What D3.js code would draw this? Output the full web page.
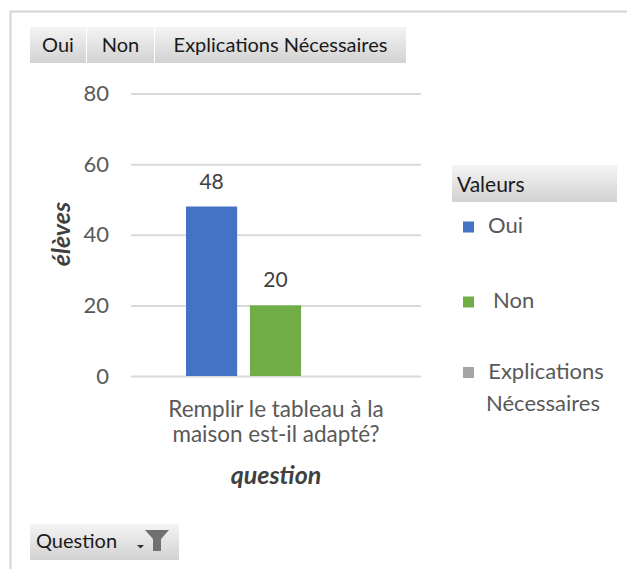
<!DOCTYPE html>
<html><head><meta charset="utf-8">
<script src="https://cdn.jsdelivr.net/npm/d3@7"></script>
<style>
html,body{margin:0;padding:0;background:#fff;}
svg{display:block;font-family:Lato,"Open Sans",sans-serif;}
</style></head>
<body>
<svg id="c" width="627" height="569"></svg>
<script>
const categories = ["Remplir le tableau à la maison est-il adapté?"];
const categoryLines = [["Remplir le tableau à la", "maison est-il adapté?"]];
const seriesNames = ["Oui", "Non", "Explications Nécessaires"];
const seriesValues = [[48], [20], [null]];
const seriesColors = ["#4472C4", "#70AD47", "#A5A5A5"];
const yTicks = [0, 20, 40, 60, 80];
const yTitle = "élèves";
const xTitle = "question";
const legendTitle = "Valeurs";
const filterButton = "Question";

const svg = d3.select("#c");
const defs = svg.append("defs");
const g1 = defs.append("linearGradient").attr("id","btn").attr("x1",0).attr("y1",0).attr("x2",0).attr("y2",1);
g1.append("stop").attr("offset","0%").attr("stop-color","#f4f4f4");
g1.append("stop").attr("offset","100%").attr("stop-color","#d2d2d2");

// frame
svg.append("path").attr("d","M10.5,569 V11.5 H627").attr("fill","none").attr("stroke","#d4d4d4").attr("stroke-width",2);

// series field buttons
const btnX = [30, 87, 155, 407];
seriesNames.forEach((s,i)=>{
  svg.append("rect").attr("x",btnX[i]).attr("y",27).attr("width",btnX[i+1]-btnX[i]-1).attr("height",36).attr("fill","url(#btn)");
  svg.append("text").attr("x",btnX[i]+ (btnX[i+1]-btnX[i]-1)/2).attr("y",52).attr("text-anchor","middle")
    .attr("font-size",20).attr("fill","#1a1a1a").text(s);
});

const left=131, right=421;
const y = d3.scaleLinear().domain([0,80]).range([376,93.5]);
const x0 = d3.scaleBand().domain(categories).range([left,right]).paddingInner(0).paddingOuter(0);
const x1 = d3.scaleBand().domain(seriesNames).range([186,365]).paddingInner(0.2).paddingOuter(0);

// gridlines and y axis
const yAxis = d3.axisLeft(y).tickValues(yTicks).tickSize(-(right-left)).tickPadding(22);
const ga = svg.append("g").attr("transform",`translate(${left},0)`).call(yAxis);
ga.select(".domain").remove();
ga.selectAll(".tick line").attr("stroke","#d9d9d9").attr("stroke-width",2);
ga.selectAll(".tick text").attr("font-size",22).attr("fill","#595959").attr("font-family","Lato,sans-serif");

// bars
const grp = svg.append("g");
seriesNames.forEach((s,i)=>{
  categories.forEach((c,j)=>{
    const v = seriesValues[i][j];
    if(v==null) return;
    const bx = x1(s);
    grp.append("rect").attr("x",bx).attr("y",y(v)).attr("width",x1.bandwidth()).attr("height",y(0)-y(v)).attr("fill",seriesColors[i]);
    grp.append("text").attr("x",bx+x1.bandwidth()/2).attr("y",y(v)-18).attr("text-anchor","middle")
      .attr("font-size",21).attr("fill","#404040").text(v);
  });
});

// category label
categories.forEach((c,j)=>{
  const cx = x0(c)+x0.bandwidth()/2;
  categoryLines[j].forEach((ln,k)=>{
    svg.append("text").attr("x",cx).attr("y",417+k*25).attr("text-anchor","middle")
      .attr("font-size",22.5).attr("fill","#595959").text(ln);
  });
});

// axis titles
svg.append("text").attr("x",(left+right)/2).attr("y",484).attr("text-anchor","middle").attr("font-size",25)
  .attr("font-weight","bold").attr("font-style","italic").attr("fill","#404040").text(xTitle);
svg.append("text").attr("transform","translate(70,234) rotate(-90)").attr("text-anchor","middle").attr("font-size",25)
  .attr("font-weight","bold").attr("font-style","italic").attr("fill","#404040").text(yTitle);

// legend
svg.append("rect").attr("x",452).attr("y",165).attr("width",165).attr("height",37).attr("fill","url(#btn)");
svg.append("text").attr("x",457).attr("y",192).attr("font-size",21).attr("fill","#1a1a1a").text(legendTitle);
const legY = [227, 302, 372.5];
const legLines = [["Oui"],["Non"],["Explications","Nécessaires"]];
seriesNames.forEach((s,i)=>{
  svg.append("rect").attr("x",463).attr("y",legY[i]-5.5).attr("width",11).attr("height",11).attr("fill",seriesColors[i]);
  legLines[i].forEach((ln,k)=>{
    const t = svg.append("text").attr("y",legY[i]+6+k*32).attr("font-size",22).attr("fill","#595959").text(ln);
    if(legLines[i].length>1) t.attr("x",k===0?546:543).attr("text-anchor","middle");
    else t.attr("x",i===1?493:488);
  });
});

// filter button
svg.append("rect").attr("x",30).attr("y",524).attr("width",149).attr("height",36).attr("fill","url(#btn)");
svg.append("text").attr("x",36).attr("y",548).attr("font-size",20).attr("fill","#1a1a1a").text(filterButton);
svg.append("path").attr("d","M137,545 h7 l-3.5,3.5 z").attr("fill","#303030");
svg.append("path").attr("d","M145,530 H169 L161,539 V551 H153 V539 Z").attr("fill","#707070");
</script>
</body></html>
